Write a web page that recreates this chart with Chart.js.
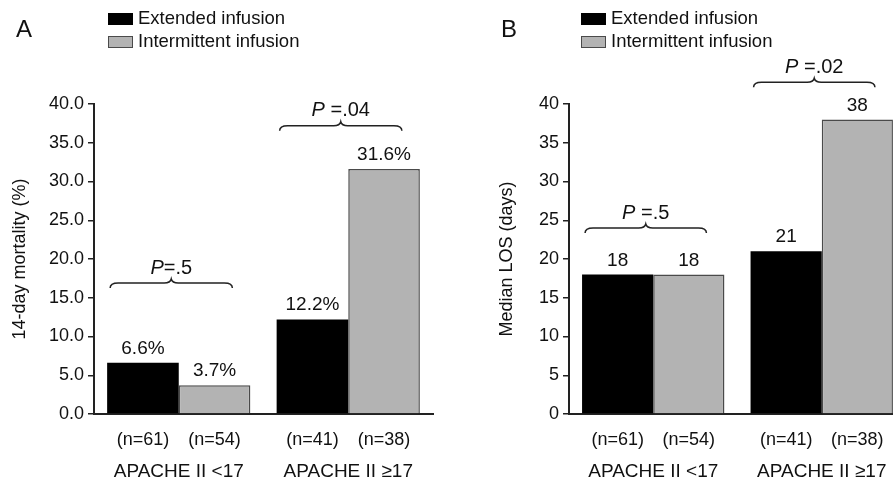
<!DOCTYPE html>
<html><head><meta charset="utf-8">
<script src="https://cdn.jsdelivr.net/npm/chart.js@4"></script>
<style>
html,body{margin:0;padding:0;background:#fff;overflow:hidden;}
#wrap{position:relative;width:893px;height:481px;overflow:hidden;background:#fff;}
canvas{position:absolute;top:0;}
#cA{left:0;}
#cB{left:446px;}
</style></head><body>
<div id="wrap"><canvas id="cA" width="446" height="481"></canvas><canvas id="cB" width="470" height="481"></canvas></div>
<script>
// ---- data ----
const groups = ['APACHE II <17', 'APACHE II \u226517'];
const seriesNames = ['Extended infusion', 'Intermittent infusion'];
const mortalityExtended = [6.6, 12.2];
const mortalityIntermittent = [3.7, 31.6];
const losExtended = [18, 21];
const losIntermittent = [18, 38];
const nExtended = ['(n=61)', '(n=41)'];
const nIntermittent = ['(n=54)', '(n=38)'];
const yTicksA = ['0.0', '5.0', '10.0', '15.0', '20.0', '25.0', '30.0', '35.0', '40.0'];
const yTicksB = ['0', '5', '10', '15', '20', '25', '30', '35', '40'];
const pLabelsA = ['P=.5', 'P =.04'];
const pLabelsB = ['P =.5', 'P =.02'];
const braceLevelA = [16.9, 37.2];
const braceLevelB = [24.0, 42.8];

const FONT = "'Liberation Sans', Arial, Helvetica, sans-serif";
const BLACK = '#000000';
const GRAY = '#b3b3b3';
const GRAY_BORDER = '#4a4a4a';

function drawBrace(ctx, x1, x2, y) {
  const xm = (x1 + x2) / 2;
  ctx.save();
  ctx.strokeStyle = '#222';
  ctx.lineWidth = 1.5;
  ctx.beginPath();
  ctx.moveTo(x1, y + 5);
  ctx.quadraticCurveTo(x1, y, x1 + 8, y);
  ctx.lineTo(xm - 7, y);
  ctx.quadraticCurveTo(xm - 1, y, xm, y - 4);
  ctx.quadraticCurveTo(xm + 1, y, xm + 7, y);
  ctx.lineTo(x2 - 8, y);
  ctx.quadraticCurveTo(x2, y, x2, y + 5);
  ctx.stroke();
  ctx.restore();
}

function annotPlugin(cfg) {
  return {
    id: 'annot' + cfg.letter,
    afterDraw(chart) {
      const ctx = chart.ctx;
      const m0 = chart.getDatasetMeta(0), m1 = chart.getDatasetMeta(1);
      const ys = chart.scales.y, xs = chart.scales.x;
      ctx.save();
      ctx.fillStyle = '#111';
      // panel letter
      ctx.font = '24px ' + FONT;
      ctx.textAlign = 'center';
      ctx.textBaseline = 'middle';
      ctx.fillText(cfg.letter, cfg.letterX, 30);
      // legend
      ctx.font = '18.5px ' + FONT;
      ctx.textAlign = 'left';
      ctx.fillStyle = BLACK;
      ctx.fillRect(cfg.legendX, 13, 25, 12);
      ctx.fillStyle = GRAY;
      ctx.fillRect(cfg.legendX, 36, 25, 12);
      ctx.strokeStyle = GRAY_BORDER;
      ctx.lineWidth = 1;
      ctx.strokeRect(cfg.legendX + 0.5, 36.5, 24, 11);
      ctx.fillStyle = '#111';
      ctx.fillText(chart.data.datasets[0].label, cfg.legendX + 30, 19);
      ctx.fillText(chart.data.datasets[1].label, cfg.legendX + 30, 42);
      // values, n labels, braces
      for (let i = 0; i < groups.length; i++) {
        const bars = [m0.data[i], m1.data[i]];
        const dsets = chart.data.datasets;
        bars.forEach((b, k) => {
          const p = b.getProps(['x', 'y', 'width'], true);
          ctx.font = '19px ' + FONT;
          ctx.textAlign = 'center';
          ctx.textBaseline = 'alphabetic';
          ctx.fillText(cfg.fmt(dsets[k].data[i]), p.x, p.y - 9);
          ctx.font = '18px ' + FONT;
          ctx.textBaseline = 'middle';
          ctx.fillText(cfg.nLabels[k][i], p.x, xs.top + 26);
        });
        const p0 = bars[0].getProps(['x', 'width'], true);
        const p1 = bars[1].getProps(['x', 'width'], true);
        const xl = p0.x - p0.width / 2 + 3;
        const xr = p1.x + p1.width / 2 - 18;
        const yb = ys.getPixelForValue(cfg.braceLevels[i]);
        drawBrace(ctx, xl, xr, yb);
        // P text: italic P + rest
        const txt = cfg.pLabels[i];
        const first = txt.charAt(0), rest = txt.slice(1);
        ctx.font = 'italic 20px ' + FONT;
        const w1 = ctx.measureText(first).width;
        ctx.font = '20px ' + FONT;
        const w2 = ctx.measureText(rest).width;
        const xm = (xl + xr) / 2;
        const sx = xm - (w1 + w2) / 2;
        ctx.textAlign = 'left';
        ctx.textBaseline = 'middle';
        ctx.font = 'italic 20px ' + FONT;
        ctx.fillText(first, sx, yb - 15);
        ctx.font = '20px ' + FONT;
        ctx.fillText(rest, sx + w1, yb - 15);
      }
      ctx.restore();
    }
  };
}

function makeChart(id, ext, inter, yTicks, yTitle, yWidth, titlePad, padRight, cfg) {
  return new Chart(document.getElementById(id), {
    type: 'bar',
    data: {
      labels: groups,
      datasets: [
        { label: seriesNames[0], data: ext, backgroundColor: BLACK, borderColor: BLACK, borderWidth: 0 },
        { label: seriesNames[1], data: inter, backgroundColor: GRAY, borderColor: GRAY_BORDER, borderWidth: 1.5 }
      ]
    },
    options: {
      responsive: false,
      animation: false,
      devicePixelRatio: 1,
      layout: { autoPadding: false, padding: { top: 104, right: padRight, left: 0, bottom: 0 } },
      datasets: { bar: { categoryPercentage: 0.845, barPercentage: 1.0 } },
      plugins: { legend: { display: false }, tooltip: { enabled: false }, title: { display: false } },
      scales: {
        x: {
          grid: { display: false, drawTicks: false },
          border: { display: true, color: '#222', width: 2 },
          ticks: { color: '#111', font: { size: 19, family: FONT }, padding: 46, maxRotation: 0 },
          afterFit: s => { s.height = 67; s.paddingLeft = 0; s.paddingRight = 0; }
        },
        y: {
          min: 0, max: 40,
          ticks: { stepSize: 5, color: '#111', padding: 4, font: { size: 18, family: FONT },
                   callback: (v, i) => yTicks[i] },
          grid: { drawOnChartArea: false, drawTicks: true, tickLength: 6, color: '#222', lineWidth: 1.5 },
          border: { display: true, color: '#222', width: 2 },
          title: { display: true, text: yTitle, color: '#111', font: { size: 18, family: FONT }, padding: { top: titlePad } },
          afterFit: s => { s.width = yWidth; s.paddingTop = 0; s.paddingBottom = 0; }
        }
      }
    },
    plugins: [annotPlugin(cfg)]
  });
}

makeChart('cA', mortalityExtended, mortalityIntermittent, yTicksA, '14-day mortality (%)', 94, 9, 13, {
  letter: 'A', letterX: 24, legendX: 108,
  fmt: v => v.toFixed(1) + '%',
  nLabels: [nExtended, nIntermittent], pLabels: pLabelsA, braceLevels: braceLevelA
});
makeChart('cB', losExtended, losIntermittent, yTicksB, 'Median LOS (days)', 123, 50, 10, {
  letter: 'B', letterX: 509 - 446, legendX: 135,
  fmt: v => String(v),
  nLabels: [nExtended, nIntermittent], pLabels: pLabelsB, braceLevels: braceLevelB
});
</script>
</body></html>
